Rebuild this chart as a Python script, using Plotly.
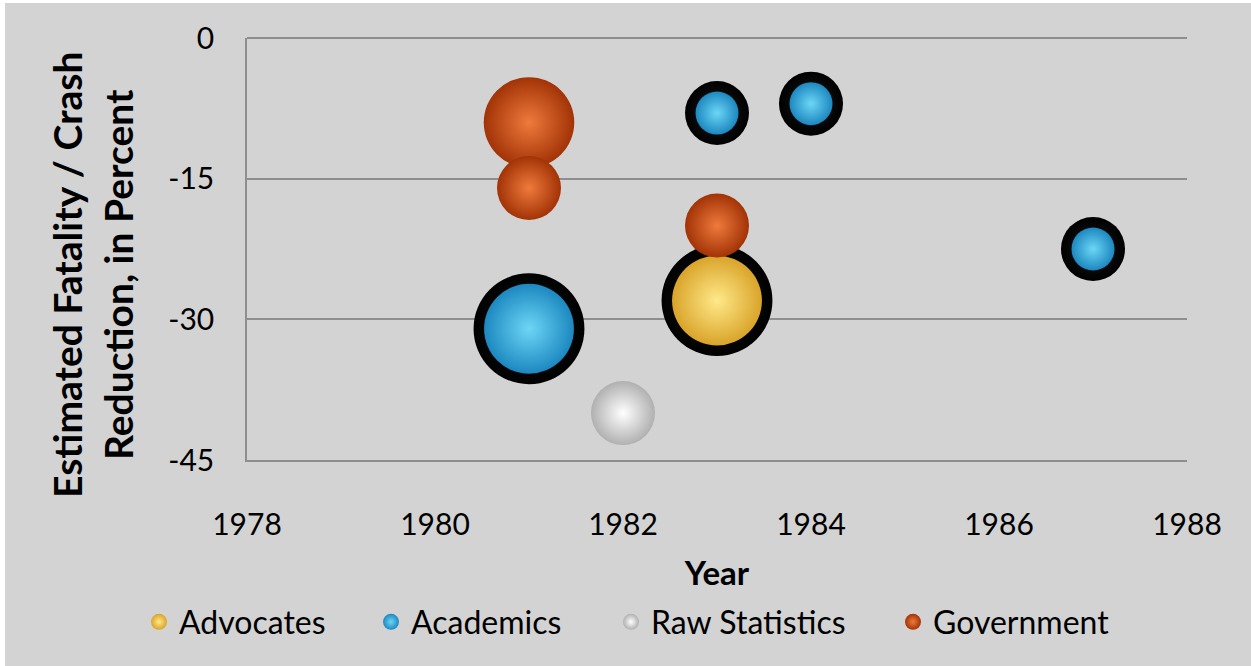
import math
import plotly.graph_objects as go

# ---------------- data ----------------
series_names = ["Advocates", "Academics", "Raw Statistics", "Government"]

advocates_year = [1983]
advocates_value = [-28]
advocates_size = [3]

academics_year = [1981, 1983, 1984, 1987]
academics_value = [-31, -8, -7, -22.5]
academics_size = [3, 1, 1, 1]

raw_year = [1982]
raw_value = [-40]
raw_size = [1]

government_year = [1981, 1981, 1983]
government_value = [-9, -16, -20]
government_size = [2, 1, 1]

x_tick_vals = [1978, 1980, 1982, 1984, 1986, 1988]
x_tick_text = ["1978", "1980", "1982", "1984", "1986", "1988"]
y_tick_vals = [0, -15, -30, -45]
y_tick_text = ["0", "-15", "-30", "-45"]

# ---------------- style ----------------
W, H = 1251, 666
ML, MR, MT, MB = 247, 64, 38, 206
PW, PH = W - ML - MR, H - MT - MB
BG = "#d3d3d3"
GRID = "#8e8e8e"
FONT = "Lato"
UNIT_PX = 64.0          # diameter of a bubble of size 1
RING = 10.5             # black outline thickness
LEGEND_MARKER_X = [159, 391, 631, 913]   # legend symbol centres (px)
LEGEND_Y = 622

def diam(sizes, ring=False):
    return [UNIT_PX * math.sqrt(s) - (2 * RING if ring else 0) for s in sizes]

def px_x(p):
    return (p - ML) / PW

def px_y(p):
    return (MT + PH - p) / PH

fig = go.Figure()
legend_ids = ["legend", "legend2", "legend3", "legend4"]

def sphere(idx, xs, ys, sizes, center, edge, ring=False):
    name = series_names[idx]
    if ring:
        fig.add_trace(go.Scatter(
            x=xs, y=ys, mode="markers", showlegend=False, legendgroup=name,
            hoverinfo="skip",
            marker=dict(size=diam(sizes), sizemode="diameter", color="#000000",
                        gradient=dict(type="radial", color="#1a1a1a"),
                        line=dict(width=0), opacity=1)))
    fig.add_trace(go.Scatter(
        x=xs, y=ys, mode="markers", name=name, legendgroup=name,
        legend=legend_ids[idx],
        marker=dict(size=diam(sizes, ring), sizemode="diameter", color=edge,
                    gradient=dict(type="radial", color=center),
                    line=dict(width=0), opacity=1)))

sphere(0, advocates_year, advocates_value, advocates_size, "#ffe98a", "#d9a42a", ring=True)
sphere(1, academics_year, academics_value, academics_size, "#6dd6f6", "#1c88c0", ring=True)
sphere(2, raw_year, raw_value, raw_size, "#ffffff", "#b0b0b0")
sphere(3, government_year, government_value, government_size, "#ef7a3c", "#a23306")

legend_common = dict(orientation="h", xanchor="left", yanchor="middle",
                     itemsizing="trace", bgcolor="rgba(0,0,0,0)", borderwidth=0,
                     font=dict(family=FONT, size=32, color="#000000"))
legends = {}
for lid, mx in zip(legend_ids, LEGEND_MARKER_X):
    legends[lid] = dict(legend_common, x=px_x(mx - 20), y=px_y(LEGEND_Y))

fig.update_layout(
    width=W, height=H,
    margin=dict(l=ML, r=MR, t=MT, b=MB, pad=0),
    paper_bgcolor=BG, plot_bgcolor=BG,
    font=dict(family=FONT, size=30, color="#000000"),
    showlegend=True,
    **legends,
    xaxis=dict(range=[1978, 1988], tickvals=x_tick_vals, ticktext=x_tick_text,
               showgrid=False, zeroline=False, showline=True, linecolor=GRID, linewidth=1.5,
               ticks="outside", ticklen=37, tickcolor="rgba(0,0,0,0)",
               tickfont=dict(family=FONT, size=30, color="#000000"),
               title=dict(text="<b>Year</b>", standoff=22,
                          font=dict(family=FONT, size=33, color="#000000"))),
    yaxis=dict(range=[-45, 0], tickvals=y_tick_vals, ticktext=y_tick_text,
               showgrid=True, gridcolor=GRID, gridwidth=1.5,
               zeroline=True, zerolinecolor=GRID, zerolinewidth=1.5,
               showline=True, linecolor=GRID, linewidth=1.5,
               ticks="outside", ticklen=25, tickcolor="rgba(0,0,0,0)",
               tickfont=dict(family=FONT, size=30, color="#000000")),
    annotations=[dict(
        text="<b>Estimated Fatality / Crash<br>Reduction, in Percent</b>",
        xref="paper", yref="paper", x=px_x(92), y=px_y(275),
        xanchor="center", yanchor="middle", textangle=-90, showarrow=False,
        font=dict(family=FONT, size=39, color="#000000"))],
    shapes=[
        dict(type="rect", xref="paper", yref="paper", layer="below",
             x0=px_x(0), x1=px_x(5), y0=px_y(H), y1=px_y(0),
             fillcolor="#ffffff", line=dict(width=0)),
        dict(type="rect", xref="paper", yref="paper", layer="below",
             x0=px_x(0), x1=px_x(W), y0=px_y(3), y1=px_y(0),
             fillcolor="#ffffff", line=dict(width=0)),
    ],
)

fig.write_html("out.html")
